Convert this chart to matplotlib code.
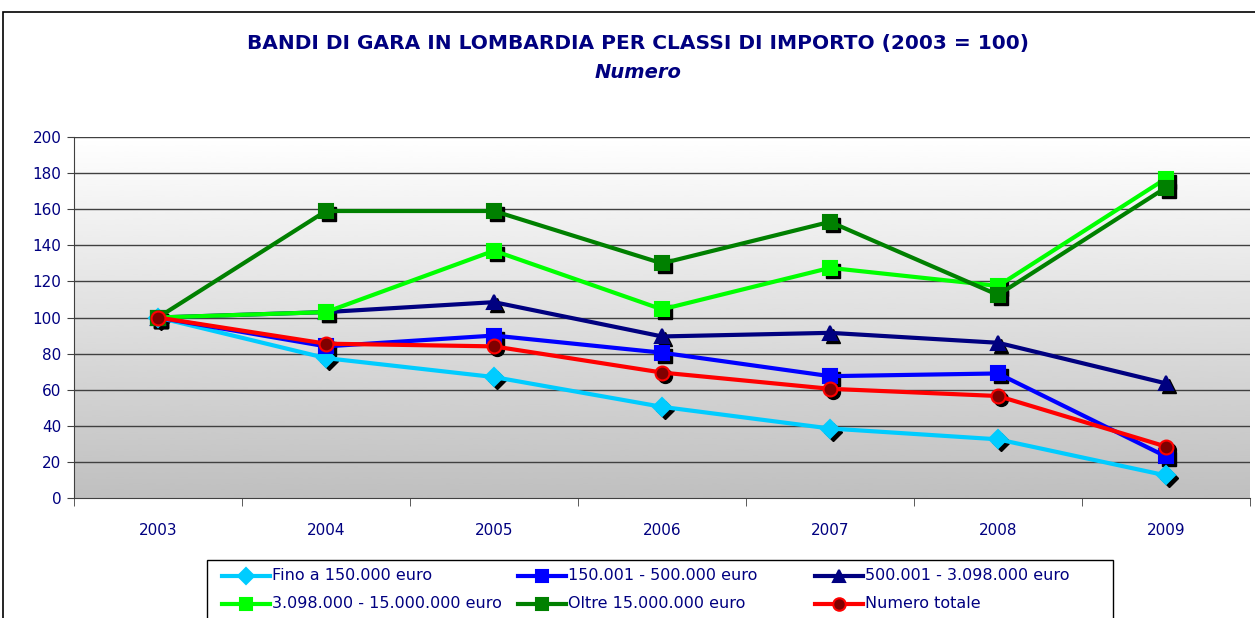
import numpy as np
import matplotlib
matplotlib.use('Agg')
import matplotlib.pyplot as plt
from matplotlib.transforms import offset_copy
from matplotlib.patches import Rectangle
from matplotlib.lines import Line2D

# Dati: indice 2003 = 100
anni = ['2003', '2004', '2005', '2006', '2007', '2008', '2009']
fino_150 = [100, 77.5, 67, 50.5, 38.5, 32.5, 12.5]
da_150_a_500 = [100, 84, 90, 80.5, 67.5, 69, 23]
da_500_a_3098 = [100, 103, 108.5, 89.5, 91.5, 86, 63.5]
da_3098_a_15000 = [100, 103, 137, 104.5, 127.5, 117.5, 177]
oltre_15000 = [100, 159, 159, 130, 153, 112.5, 172]
numero_totale = [100, 85.5, 84, 69.5, 60.5, 56.5, 28.5]

etichette = ['Fino a 150.000 euro', '150.001 - 500.000 euro',
             '500.001 - 3.098.000 euro', '3.098.000 - 15.000.000 euro',
             'Oltre 15.000.000 euro', 'Numero totale']

navy = '#000080'
serie = [
    (fino_150, '#00ccff', 'D', 9, '#00ccff', '#00ccff'),
    (da_150_a_500, '#0000ff', 's', 10, '#0000ff', '#0000ff'),
    (da_500_a_3098, navy, '^', 10, navy, navy),
    (da_3098_a_15000, '#00ff00', 's', 10, '#00ff00', '#00ff00'),
    (oltre_15000, '#008000', 's', 10, '#008000', '#008000'),
    (numero_totale, '#ff0000', 'o', 10, '#800000', '#ff0000'),
]

W, H = 1255, 618
fig = plt.figure(figsize=(W / 100, H / 100), dpi=100)
ax = fig.add_axes([74 / W, 120 / H, 1176 / W, 361 / H])

x = np.arange(len(anni))

# sfondo sfumato dell'area del grafico
grad = np.linspace(0.75, 1.0, 256).reshape(-1, 1)
ax.imshow(grad, cmap='gray', vmin=0, vmax=1, origin='lower', aspect='auto',
          extent=[-0.5, 6.5, 0, 200], zorder=0, interpolation='bicubic')

for yv in range(20, 201, 20):
    ax.axhline(yv, color='#404040', lw=1, zorder=1)

ombra = offset_copy(ax.transData, fig=fig, x=3, y=-3, units='dots')

for dati, col, mk, ms, fc, ec in serie:
    ax.plot(x, dati, ls='none', marker=mk, ms=ms, color='black',
            transform=ombra, zorder=2)

for i, (dati, col, mk, ms, fc, ec) in enumerate(serie):
    ax.plot(x, dati, color=col, lw=3, marker=mk, ms=ms, mfc=fc, mec=ec,
            mew=1.5, zorder=3 + i)

ax.set_xlim(-0.5, 6.5)
ax.set_ylim(0, 200)
ax.set_yticks(range(0, 201, 20))
ax.set_xticks(x)
ax.set_xticklabels(anni)
ax.set_xticks(np.arange(-0.5, 7, 1), minor=True)
ax.tick_params(axis='x', which='major', length=0, pad=18, labelsize=11, labelcolor=navy)
ax.tick_params(axis='x', which='minor', length=6, color='#404040', direction='out')
ax.tick_params(axis='y', length=5, color='#404040', labelsize=11, labelcolor=navy, pad=4)
for lato in ['top', 'right']:
    ax.spines[lato].set_visible(False)
ax.spines['left'].set_color('#404040')
ax.spines['bottom'].set_color('#404040')

fig.text(638 / W, 1 - 44 / H, 'BANDI DI GARA IN LOMBARDIA PER CLASSI DI IMPORTO (2003 = 100)',
         ha='center', va='center', fontsize=14.5, fontweight='bold', color=navy,
         family='DejaVu Sans Condensed')
fig.text(638 / W, 1 - 72 / H, 'Numero', ha='center', va='center', fontsize=14,
         fontweight='bold', fontstyle='italic', color=navy, family='DejaVu Sans Condensed')

# cornice esterna del grafico
fig.patches.append(Rectangle((3 / W, -0.1), 1.1, 1.1 - 12 / H,
                             transform=fig.transFigure, fill=False,
                             edgecolor='black', lw=1.2))

# legenda a colonne di larghezza fissa, riempita per righe
fig.patches.append(Rectangle((207 / W, -0.1), (1113 - 207) / W, 0.1 + (H - 560) / H,
                             transform=fig.transFigure, facecolor='white',
                             edgecolor='black', lw=1))
col_x = [222, 518, 815]
riga_y = [576, 604]
for i, (dati, col, mk, ms, fc, ec) in enumerate(serie):
    x0 = col_x[i % 3]
    y0 = 1 - riga_y[i // 3] / H
    fig.add_artist(Line2D([x0 / W, (x0 + 48) / W], [y0, y0], color=col, lw=3,
                          transform=fig.transFigure))
    fig.add_artist(Line2D([(x0 + 24) / W], [y0], marker=mk, ms=ms - 1, mfc=fc,
                          mec=ec, mew=1.5, ls='none', transform=fig.transFigure))
    fig.text((x0 + 50) / W, y0, etichette[i], ha='left', va='center',
             fontsize=11.5, color=navy)

fig.savefig('out.png', dpi=100)
